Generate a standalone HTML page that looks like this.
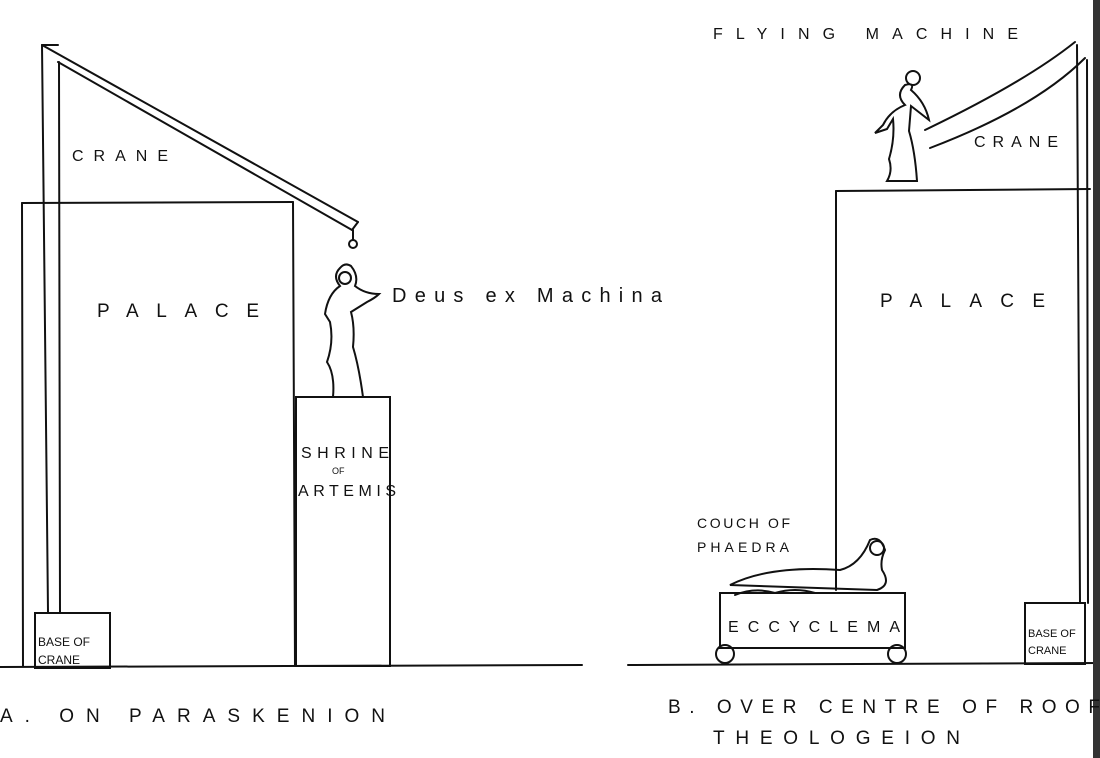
<!DOCTYPE html>
<html><head><meta charset="utf-8"><style>
html,body{margin:0;padding:0;background:#fff;}
svg{display:block}
text{font-family:"Liberation Sans",sans-serif;fill:#111;}
</style></head><body>
<svg width="1100" height="758" viewBox="0 0 1100 758" xmlns="http://www.w3.org/2000/svg">
<g stroke="#111" stroke-width="2" fill="none" stroke-linecap="round">
<!-- Left diagram -->
<line x1="0" y1="667" x2="582" y2="665"/>
<line x1="22" y1="203" x2="293" y2="202"/>
<line x1="22" y1="203" x2="23" y2="666"/>
<line x1="293" y1="202" x2="295" y2="666"/>
<line x1="42" y1="45" x2="48" y2="612"/>
<line x1="59" y1="62" x2="60" y2="612"/>
<line x1="42" y1="45" x2="58" y2="45"/>
<line x1="42" y1="45" x2="358" y2="222"/>
<line x1="58" y1="62" x2="352" y2="230"/>
<line x1="352" y1="230" x2="358" y2="222"/>
<line x1="353" y1="230" x2="353" y2="240"/>
<circle cx="353" cy="244" r="4"/>
<rect x="35" y="613" width="75" height="55"/>
<rect x="296" y="397" width="94" height="269"/>
<path d="M340 268 q-8 8 0 18 q-12 8 -15 28 l5 8 q4 20 -3 40 q8 12 6 35 l30 0 q-4 -30 -10 -50 q2 -20 -2 -35 l16 -10 q8 -4 12 -8 q-14 0 -24 -8 q4 -10 -4 -20 q-6 -4 -11 2z"/>
<circle cx="345" cy="278" r="6"/>
<!-- Right diagram -->
<line x1="628" y1="665" x2="1100" y2="663"/>
<line x1="836" y1="191" x2="1090" y2="189"/>
<line x1="836" y1="191" x2="836" y2="590"/>
<line x1="1077" y1="45" x2="1080" y2="603"/>
<line x1="1087" y1="60" x2="1088" y2="603"/>
<path d="M1075 42 q-50 40 -150 88"/>
<path d="M1085 58 q-50 50 -155 90"/>
<rect x="1025" y="603" width="60" height="61"/>
<rect x="720" y="593" width="185" height="55"/>
<circle cx="725" cy="654" r="9"/>
<circle cx="897" cy="654" r="9"/>
<path d="M905 85 q-10 10 0 20 q-15 6 -22 20 l-8 8 l12 -4 l6 -10 q2 20 -4 40 q4 12 -2 22 l30 0 q-2 -30 -8 -50 l2 -25 l18 14 q-4 -18 -18 -30 q4 -8 -6 -5z"/>
<circle cx="913" cy="78" r="7"/>
<path d="M730 585 q40 -20 110 -15 q20 -5 30 -30 q10 -5 15 10 q-5 10 -3 20 q10 15 -5 20 l-147 -5z"/>
<path d="M735 595 q20 -8 40 -2 q20 -6 40 0"/>
<circle cx="877" cy="548" r="7"/>
</g>
<rect x="1093" y="0" width="7" height="758" fill="#333"/>
<g font-size="16" lengthAdjust="spacing">
<text x="72" y="161" textLength="96" lengthAdjust="spacing">CRANE</text>
<text x="97" y="317" font-size="19" textLength="162" lengthAdjust="spacing">PALACE</text>
<text x="392" y="302" font-size="20" textLength="270" lengthAdjust="spacing">Deus ex Machina</text>
<text x="301" y="458" textLength="88" lengthAdjust="spacing">SHRINE</text>
<text x="332" y="474" font-size="9">OF</text>
<text x="298" y="496" textLength="98" lengthAdjust="spacing">ARTEMIS</text>
<text x="38" y="646" font-size="12">BASE OF</text>
<text x="38" y="664" font-size="12">CRANE</text>
<text x="0" y="722" font-size="19" textLength="385" lengthAdjust="spacing">A. ON PARASKENION</text>
<text x="713" y="39" textLength="305" lengthAdjust="spacing">FLYING MACHINE</text>
<text x="974" y="147" textLength="84" lengthAdjust="spacing">CRANE</text>
<text x="880" y="307" font-size="19" textLength="165" lengthAdjust="spacing">PALACE</text>
<text x="697" y="528" font-size="14" textLength="93" lengthAdjust="spacing">COUCH OF</text>
<text x="697" y="552" font-size="14" textLength="92" lengthAdjust="spacing">PHAEDRA</text>
<text x="728" y="632" textLength="172" lengthAdjust="spacing">ECCYCLEMA</text>
<text x="1028" y="637" font-size="11">BASE OF</text>
<text x="1028" y="654" font-size="11">CRANE</text>
<text x="668" y="713" font-size="19" textLength="432" lengthAdjust="spacing">B. OVER CENTRE  OF ROOF</text>
<text x="713" y="744" font-size="19" textLength="247" lengthAdjust="spacing">THEOLOGEION</text>
</g>
</svg>
</body></html>
